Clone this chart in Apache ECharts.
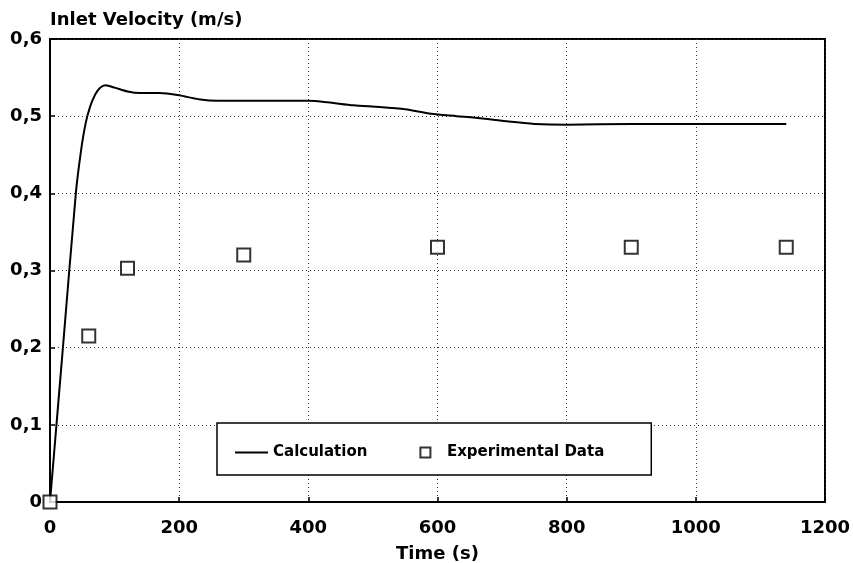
<!DOCTYPE html>
<html>
<head>
<meta charset="utf-8">
<script src="https://cdn.jsdelivr.net/npm/echarts@6/dist/echarts.min.js"></script>
<style>
  html, body { margin: 0; padding: 0; background: #fff; }
  #chart { width: 853px; height: 563px; }
</style>
</head>
<body>
<div id="chart"></div>
<script>
// calculation curve (time s, velocity m/s)
var calcTime = [0, 20, 40, 48, 55, 62, 70, 78, 86, 100, 120, 140, 170, 200, 230, 260, 300, 350, 400, 430, 470, 510, 550, 590, 630, 670, 710, 750, 800, 900, 1000, 1140];
var calcVel = [0, 0.2, 0.4, 0.455, 0.49, 0.512, 0.528, 0.537, 0.54, 0.537, 0.532, 0.53, 0.53, 0.527, 0.522, 0.52, 0.52, 0.52, 0.52, 0.518, 0.514, 0.512, 0.509, 0.503, 0.5, 0.497, 0.493, 0.49, 0.489, 0.49, 0.49, 0.49];

// experimental points
var expTime = [0, 60, 120, 300, 600, 900, 1140];
var expVel = [0, 0.215, 0.303, 0.32, 0.33, 0.33, 0.33];

var xTicks = [0, 200, 400, 600, 800, 1000, 1200];
var yTicks = [0, 0.1, 0.2, 0.3, 0.4, 0.5, 0.6];

function pairs(xs, ys) {
  return xs.map(function (x, i) { return [x, ys[i]]; });
}

var font = 'DejaVu Sans';
var chart = echarts.init(document.getElementById('chart'));

chart.setOption({
  animation: false,
  grid: {
    left: 50,
    right: 28,
    top: 39,
    bottom: 61,
    outerBoundsMode: 'none',
    containLabel: false,
    show: true,
    borderColor: '#000',
    borderWidth: 2,
    backgroundColor: 'transparent'
  },
  legend: {
    left: 217,
    top: 423,
    orient: 'horizontal',
    backgroundColor: '#fff',
    borderColor: '#000',
    borderWidth: 1.5,
    borderRadius: 0,
    padding: [22, 47, 15, 18],
    itemWidth: 33,
    itemHeight: 10,
    itemGap: 52,
    textStyle: { fontFamily: font, fontWeight: 'bold', fontSize: 15, color: '#000' },
    data: [
      { name: 'Calculation', icon: 'path://M0,0H33V2H0Z' },
      { name: 'Experimental Data', icon: 'path://M0,0H10V10H0Z' }
    ]
  },
  xAxis: {
    type: 'value',
    min: xTicks[0],
    max: xTicks[xTicks.length - 1],
    interval: 200,
    name: 'Time (s)',
    nameLocation: 'middle',
    nameGap: 43,
    nameTextStyle: { fontFamily: font, fontWeight: 'bold', fontSize: 18, color: '#000' },
    axisLine: { lineStyle: { color: '#000', width: 2 } },
    axisTick: { inside: true, length: 5, lineStyle: { color: '#000', width: 1.5 } },
    axisLabel: {
      margin: 17, fontFamily: font, fontWeight: 'bold', fontSize: 18, color: '#000',
      formatter: function (v) { return String(v); }
    },
    splitLine: { show: true, lineStyle: { color: '#333', width: 1, type: [1, 3] } }
  },
  yAxis: {
    type: 'value',
    min: yTicks[0],
    max: yTicks[yTicks.length - 1],
    interval: 0.1,
    name: 'Inlet Velocity (m/s)',
    nameLocation: 'end',
    nameGap: 10,
    nameTextStyle: { fontFamily: font, fontWeight: 'bold', fontSize: 18, color: '#000', align: 'left', verticalAlign: 'bottom' },
    axisLine: { show: true, lineStyle: { color: '#000', width: 2 } },
    axisTick: { show: true, inside: true, length: 5, lineStyle: { color: '#000', width: 1.5 } },
    axisLabel: {
      margin: 8,
      fontFamily: font, fontWeight: 'bold', fontSize: 18, color: '#000',
      formatter: function (v) {
        return v === 0 ? '0' : v.toFixed(1).replace('.', ',');
      }
    },
    splitLine: { show: true, lineStyle: { color: '#333', width: 1, type: [1, 3] } }
  },
  series: [
    {
      name: 'Calculation',
      type: 'line',
      data: pairs(calcTime, calcVel),
      symbol: 'none',
      smooth: 0.25,
      lineStyle: { color: '#000', width: 2 },
      itemStyle: { color: '#000' },
      z: 3
    },
    {
      name: 'Experimental Data',
      type: 'scatter',
      data: pairs(expTime, expVel),
      symbol: 'rect',
      symbolSize: 13,
      clip: false,
      itemStyle: { color: '#fff', borderColor: '#000', borderWidth: 2 },
      z: 4
    }
  ]
});
</script>
</body>
</html>
